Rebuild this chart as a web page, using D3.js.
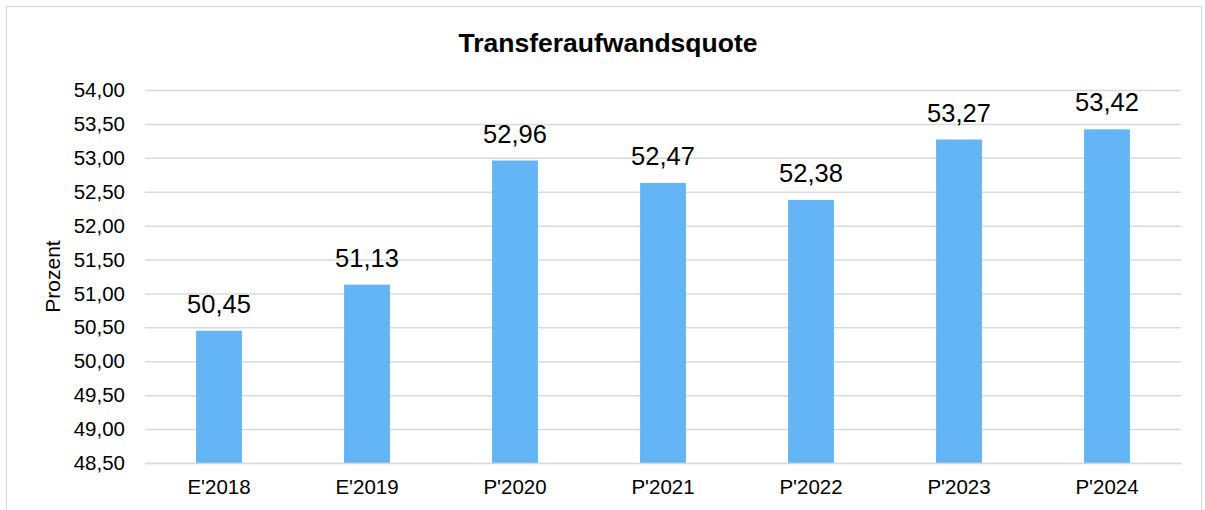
<!DOCTYPE html>
<html><head><meta charset="utf-8">
<script src="https://cdn.jsdelivr.net/npm/d3@7"></script>
<style>body{margin:0;background:#fff}svg{display:block}</style>
</head><body>
<script>
const categories = ["E'2018","E'2019","P'2020","P'2021","P'2022","P'2023","P'2024"];
const barValues = [50.45, 51.13, 52.96, 52.63, 52.38, 53.27, 53.42];
const labelTexts = ["50,45","51,13","52,96","52,47","52,38","53,27","53,42"];
const yTicks = [48.5,49,49.5,50,50.5,51,51.5,52,52.5,53,53.5,54];
const title = "Transferaufwandsquote";
const yTitle = "Prozent";

const W = 1205, H = 510;
const m = {left:145, right:1181, top:90, bottom:463};
const font = "'Liberation Sans', Arial, sans-serif";
const svg = d3.select("body").append("svg").attr("width",W).attr("height",H);

svg.append("rect").attr("x",6.5).attr("y",6.5).attr("width",1195).attr("height",520)
  .attr("fill","#fff").attr("stroke","#d9d9d9").attr("stroke-width",1.2);

const x = d3.scaleBand().domain(categories).range([m.left,m.right]).paddingInner(0.69).paddingOuter(0.345);
const y = d3.scaleLinear().domain([48.5,54]).range([m.bottom,m.top]);

const fmt = v => d3.format(".2f")(v).replace(".",",");

const yAxis = svg.append("g").attr("transform",`translate(${m.left},0)`)
  .call(d3.axisLeft(y).tickValues(yTicks).tickFormat(fmt).tickSize(-(m.right-m.left)).tickPadding(20));
yAxis.select(".domain").remove();
yAxis.selectAll(".tick line").attr("stroke","#d9d9d9").attr("stroke-width",1.5);
yAxis.selectAll(".tick text").attr("font-family",font).attr("font-size",20.5).attr("fill","#000");

svg.append("g").selectAll("rect").data(categories).join("rect")
  .attr("x",d=>x(d)).attr("width",x.bandwidth())
  .attr("y",(d,i)=>y(barValues[i])).attr("height",(d,i)=>y(48.5)-y(barValues[i]))
  .attr("fill","#64B5F6");

const xAxis = svg.append("g").attr("transform",`translate(0,${m.bottom})`)
  .call(d3.axisBottom(x).tickSize(0).tickPadding(16));
xAxis.select(".domain").attr("stroke","#d9d9d9").attr("stroke-width",1.5);
xAxis.selectAll(".tick text").attr("font-family",font).attr("font-size",20.5).attr("fill","#000");

svg.append("g").selectAll("text").data(categories).join("text")
  .attr("x",d=>x(d)+x.bandwidth()/2).attr("y",(d,i)=>y(barValues[i])-18)
  .attr("text-anchor","middle").attr("font-family",font).attr("font-size",25.5).attr("fill","#000")
  .text((d,i)=>labelTexts[i]);

svg.append("text").attr("x",608).attr("y",52).attr("text-anchor","middle")
  .attr("font-family",font).attr("font-size",26.5).attr("font-weight","bold").text(title);

svg.append("text").attr("transform",`translate(60,${(m.top+m.bottom)/2}) rotate(-90)`)
  .attr("text-anchor","middle").attr("font-family",font).attr("font-size",21).text(yTitle);
</script>
</body></html>
